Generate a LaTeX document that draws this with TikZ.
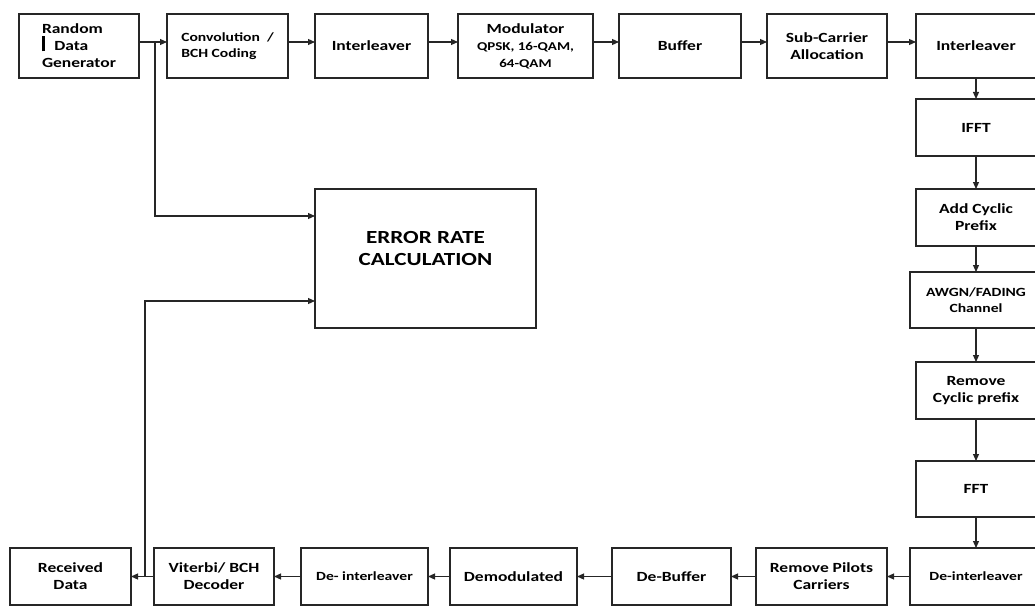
\documentclass[tikz,border=0pt]{standalone}
\usepackage{fontspec}
\setmainfont{Carlito}[FakeStretch=1.25]
\usetikzlibrary{arrows.meta}

\begin{document}
\begin{tikzpicture}[x=1pt, y=-1pt,
  every node/.style={font=\bfseries\fontsize{14}{17}\selectfont, align=center, outer sep=0pt},
  blk/.style={draw=black!85, line width=1.5pt, inner sep=2pt},
  small/.style={font=\bfseries\fontsize{12.5}{16}\selectfont},
  arr/.style={line width=1.1pt, draw=black!85, -{Triangle[length=7pt,width=6pt]}}]
\useasboundingbox (0,0) rectangle (1035,607);

% transmitter, top row
\node[blk, minimum width=120pt, minimum height=64pt, align=left] (rdg) at (79,46) {Random\\\rule[-0.5pt]{3.3pt}{15pt}\hspace{9pt}Data\\Generator};
\node[blk, small, minimum width=121pt, minimum height=64pt, align=left] (conv) at (227.5,46) {Convolution\ \ /\\BCH Coding};
\node[blk, minimum width=113pt, minimum height=64pt] (intl1) at (371.5,46) {Interleaver};
\node[blk, minimum width=135pt, minimum height=64pt] (mod) at (525.5,46) {Modulator\\{\fontsize{12}{16}\selectfont QPSK, 16-QAM,}\\{\fontsize{12}{16}\selectfont 64-QAM}};
\node[blk, minimum width=122pt, minimum height=64pt] (buf) at (680,46) {Buffer};
\node[blk, minimum width=120pt, minimum height=64pt] (sca) at (827,46) {Sub-Carrier\\Allocation};
\node[blk, minimum width=120pt, minimum height=64pt] (intl2) at (976,46) {Interleaver};

% right column
\node[blk, minimum width=120pt, minimum height=57pt] (ifft) at (976,127.5) {IFFT};
\node[blk, minimum width=120pt, minimum height=57pt] (acp) at (976,217.5) {Add Cyclic\\Prefix};
\node[blk, small, minimum width=132pt, minimum height=56pt] (awgn) at (976,300) {AWGN/FADING\\Channel};
\node[blk, minimum width=120pt, minimum height=57pt] (rcp) at (976,390.5) {Remove\\Cyclic prefix};
\node[blk, minimum width=120pt, minimum height=56pt] (fft) at (976,489) {FFT};
\node[blk, small, minimum width=132pt, minimum height=57pt] (deint2) at (976,576.5) {De-interleaver};

% receiver, bottom row
\node[blk, minimum width=131pt, minimum height=57pt] (rpc) at (821.5,576.5) {Remove Pilots\\Carriers};
\node[blk, minimum width=119pt, minimum height=57pt] (debuf) at (671.5,576.5) {De-Buffer};
\node[blk, minimum width=127pt, minimum height=57pt] (demod) at (513.5,576.5) {Demodulated};
\node[blk, small, minimum width=127pt, minimum height=57pt] (deint1) at (364.5,576.5) {De- interleaver};
\node[blk, minimum width=120pt, minimum height=57pt] (vit) at (214,576.5) {Viterbi/ BCH\\Decoder};
\node[blk, minimum width=121pt, minimum height=57pt] (rxd) at (70.5,576.5) {Received\\Data};

% error rate
\node[blk, minimum width=221pt, minimum height=139pt,
  label={[yshift=10pt, align=center, font=\bfseries\fontsize{18.5}{22}\selectfont]center:ERROR RATE\\CALCULATION}] (err) at (425.5,258.5) {};

\coordinate (br1) at (155,42);
\coordinate (br2) at (145,576.5);

\draw[arr] ([yshift=4pt]rdg.east) -- ([yshift=4pt]conv.west);
\draw[arr] ([yshift=4pt]conv.east) -- ([yshift=4pt]intl1.west);
\draw[arr] ([yshift=4pt]intl1.east) -- ([yshift=4pt]mod.west);
\draw[arr] ([yshift=4pt]mod.east) -- ([yshift=4pt]buf.west);
\draw[arr] ([yshift=4pt]buf.east) -- ([yshift=4pt]sca.west);
\draw[arr] ([yshift=4pt]sca.east) -- ([yshift=4pt]intl2.west);

\draw[arr] (intl2.south) -- (ifft.north);
\draw[arr] (ifft.south) -- (acp.north);
\draw[arr] (acp.south) -- (awgn.north);
\draw[arr] (awgn.south) -- (rcp.north);
\draw[arr] (rcp.south) -- (fft.north);
\draw[arr] (fft.south) -- (deint2.north);

\draw[arr] (deint2.west) -- (rpc.east);
\draw[arr] (rpc.west) -- (debuf.east);
\draw[arr] (debuf.west) -- (demod.east);
\draw[arr] (demod.west) -- (deint1.east);
\draw[arr] (deint1.west) -- (vit.east);
\draw[arr] (vit.west) -- (rxd.east);

\draw[arr] (br1) |- ([yshift=42.5pt]err.west);
\draw[arr] (br2) |- ([yshift=-42.5pt]err.west);
\end{tikzpicture}
\end{document}
